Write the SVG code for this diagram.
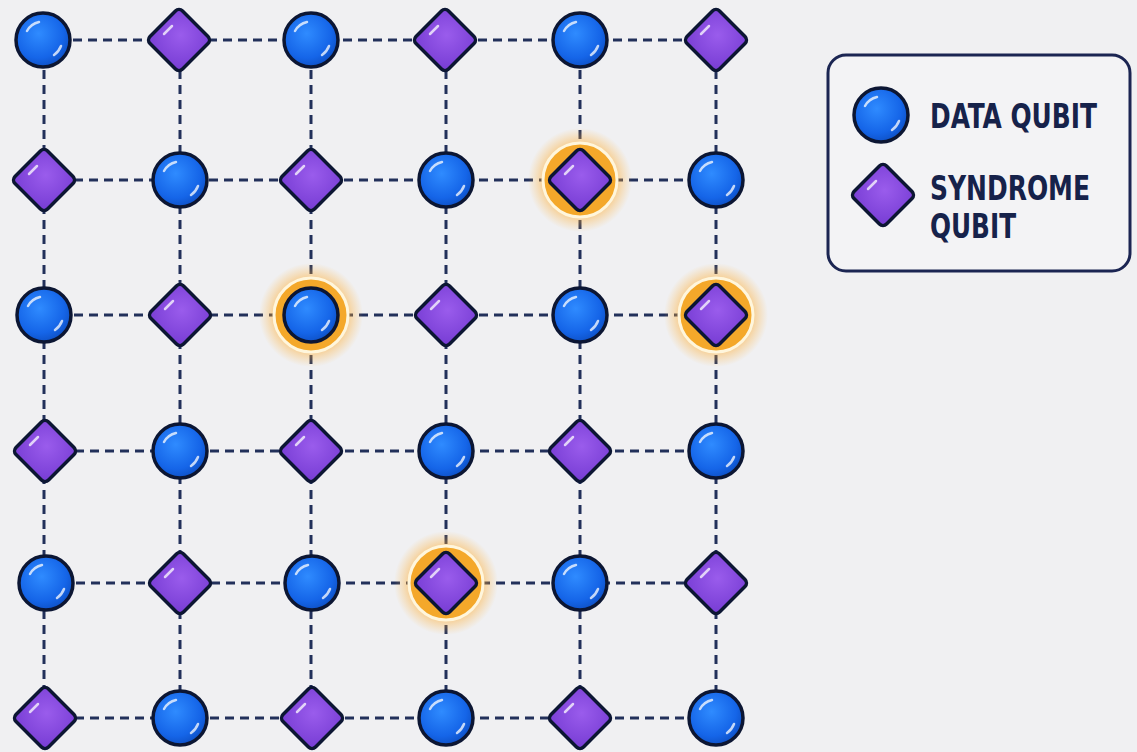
<svg xmlns="http://www.w3.org/2000/svg" xmlns:xlink="http://www.w3.org/1999/xlink" width="1137" height="752" viewBox="0 0 1137 752">
<defs>
<style>
.bg{fill:#f0f0f2}
.ln{stroke:#22305a;stroke-width:3;stroke-dasharray:9 6;fill:none}
.dq{fill:url(#gBlue);stroke:#0c1633;stroke-width:3.5}
.sq{fill:url(#gPurp);stroke:#0c1633;stroke-width:3.5}
.hl{fill:none;stroke:#ffffff;stroke-width:2.5;stroke-linecap:round;opacity:0.75}
.ring{fill:#f4a82a;stroke:#fff6dc;stroke-width:3}
.glow{fill:url(#gGlow)}
.lg{fill:#f3f3f5;stroke:#1b2552;stroke-width:3}
.lt{font-family:"DejaVu Sans Condensed","DejaVu Sans","Liberation Sans",sans-serif;font-weight:bold;font-size:34px;fill:#16224a}
</style>
<radialGradient id="gBlue" cx="0.42" cy="0.38" r="0.65">
<stop offset="0" stop-color="#2f8bff"/>
<stop offset="0.7" stop-color="#1565e8"/>
<stop offset="1" stop-color="#0d4fc4"/>
</radialGradient>
<radialGradient id="gPurp" cx="0.45" cy="0.4" r="0.7">
<stop offset="0" stop-color="#9a5cec"/>
<stop offset="1" stop-color="#7a3fd6"/>
</radialGradient>
<radialGradient id="gGlow" cx="0.5" cy="0.5" r="0.5">
<stop offset="0.55" stop-color="#ffa21c" stop-opacity="0.7"/>
<stop offset="1" stop-color="#ffb43a" stop-opacity="0"/>
</radialGradient>
<g id="data">
<circle r="27" class="dq"/>
<path d="M-16,-9 A18,18 0 0 1 -4,-18" class="hl"/>
<path d="M11,15 A19,19 0 0 0 18,6" class="hl"/>
</g>
<g id="synd">
<rect x="-23" y="-23" width="46" height="46" rx="5" transform="rotate(45)" class="sq"/>
<path d="M-15,-6 L-7,-14" class="hl"/>
</g>
<g id="glowDot">
<circle r="52" class="glow"/>
<circle r="37" class="ring"/>
</g>
</defs>
<rect class="bg" x="0" y="0" width="1137" height="752"/>

<g id="connectors">
<path class="ln" d="M43,40H716 M44,180H716 M44,315H716 M45,451H716 M46,583H716 M45,718H716"/>
<path class="ln" d="M44,40V718 M180,40V718 M311,40V718 M446,40V718 M580,40V718 M716,40V718"/>
</g>

<g id="row0">
<use id="n00" href="#data" x="43" y="40"/>
<use id="n01" href="#synd" x="179" y="40"/>
<use id="n02" href="#data" x="311" y="40"/>
<use id="n03" href="#synd" x="445" y="40"/>
<use id="n04" href="#data" x="580" y="40"/>
<use id="n05" href="#synd" x="716" y="40"/>
</g>
<g id="row1">
<use id="n10" href="#synd" x="44" y="180"/>
<use id="n11" href="#data" x="180" y="180"/>
<use id="n12" href="#synd" x="311" y="180"/>
<use id="n13" href="#data" x="446" y="180"/>
<g id="n14"><use href="#glowDot" x="580" y="180"/><use href="#synd" x="580" y="180"/></g>
<use id="n15" href="#data" x="716" y="180"/>
</g>
<g id="row2">
<use id="n20" href="#data" x="44" y="315"/>
<use id="n21" href="#synd" x="180" y="315"/>
<g id="n22"><use href="#glowDot" x="311" y="315"/><use href="#data" x="311" y="315"/></g>
<use id="n23" href="#synd" x="446" y="315"/>
<use id="n24" href="#data" x="580" y="315"/>
<g id="n25"><use href="#glowDot" x="716" y="315"/><use href="#synd" x="716" y="315"/></g>
</g>
<g id="row3">
<use id="n30" href="#synd" x="45" y="451"/>
<use id="n31" href="#data" x="180" y="451"/>
<use id="n32" href="#synd" x="311" y="451"/>
<use id="n33" href="#data" x="446" y="451"/>
<use id="n34" href="#synd" x="580" y="451"/>
<use id="n35" href="#data" x="716" y="451"/>
</g>
<g id="row4">
<use id="n40" href="#data" x="46" y="583"/>
<use id="n41" href="#synd" x="180" y="583"/>
<use id="n42" href="#data" x="312" y="583"/>
<g id="n43"><use href="#glowDot" x="446" y="583"/><use href="#synd" x="446" y="583"/></g>
<use id="n44" href="#data" x="580" y="583"/>
<use id="n45" href="#synd" x="716" y="583"/>
</g>
<g id="row5">
<use id="n50" href="#synd" x="45" y="718"/>
<use id="n51" href="#data" x="180" y="718"/>
<use id="n52" href="#synd" x="312" y="718"/>
<use id="n53" href="#data" x="446" y="718"/>
<use id="n54" href="#synd" x="580" y="718"/>
<use id="n55" href="#data" x="716" y="718"/>
</g>

<g id="legend">
<rect class="lg" x="828" y="55" width="302" height="216" rx="18"/>
<use href="#data" x="881" y="115"/>
<text class="lt" x="930" y="128" textLength="167" lengthAdjust="spacingAndGlyphs">DATA QUBIT</text>
<use href="#synd" x="883" y="195"/>
<text class="lt" x="930" y="200" textLength="160" lengthAdjust="spacingAndGlyphs">SYNDROME</text>
<text class="lt" x="930" y="238" textLength="86" lengthAdjust="spacingAndGlyphs">QUBIT</text>
</g>
</svg>
